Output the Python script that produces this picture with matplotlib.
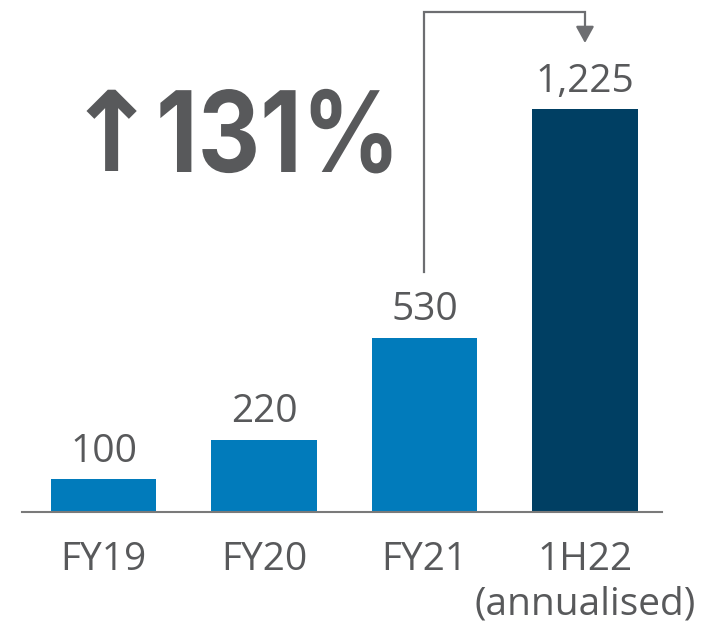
import matplotlib
matplotlib.use("Agg")
import matplotlib.pyplot as plt
from matplotlib.transforms import blended_transform_factory, Affine2D
from matplotlib.lines import Line2D
from matplotlib.patheffects import AbstractPathEffect

categories = ["FY19", "FY20", "FY21", "1H22\n(annualised)"]
values = [100, 220, 530, 1225]
value_labels = ["100", "220", "530", "1,225"]
growth_label = "131%"

W, H = 721, 628
fig = plt.figure(figsize=(W / 100, H / 100), dpi=100)
fig.patch.set_facecolor("white")

TEXT = "#58595b"
LINE = "#6d6e71"
colors = ["#017bbb", "#017bbb", "#017bbb", "#003f63"]

ax_left, ax_right, base_px = 22, 662, 512
ax = fig.add_axes([ax_left / W, (H - base_px) / H, (ax_right - ax_left) / W, base_px / H])
x = list(range(len(categories)))
ax.bar(x, values, width=0.66, color=colors, zorder=2)
ax.set_xlim(-0.508, 3.48)
ax.set_ylim(0, 1556)

for s in ["top", "left", "right"]:
    ax.spines[s].set_visible(False)
ax.spines["bottom"].set_color("#7a7a7a")
ax.spines["bottom"].set_linewidth(1.5)
ax.set_yticks([])
ax.set_xticks(x)
ax.set_xticklabels(categories, fontsize=28, color=TEXT, family=["Open Sans", "DejaVu Sans"],
                   linespacing=1.22)
ax.tick_params(axis="x", length=0, pad=21)

for xi, v, lab in zip(x, values, value_labels):
    ax.annotate(lab, (xi, v), xytext=(0, 12.5), textcoords="offset points",
                ha="center", va="baseline", fontsize=28, color=TEXT,
                family=["Open Sans", "DejaVu Sans"])

# connector from FY21 to 1H22
bt = blended_transform_factory(ax.transData, fig.transFigure)
def fy(py):
    return 1 - py / H
line = Line2D([2, 2, 3, 3], [fy(272), fy(12), fy(12), fy(30)], transform=bt,
              color=LINE, lw=1.6, solid_joinstyle="miter", figure=fig)
fig.add_artist(line)
ax.annotate("", xy=(3, fy(43)), xycoords=bt, xytext=(3, fy(27)), textcoords=bt,
            arrowprops=dict(arrowstyle="-|>,head_length=1.0,head_width=0.55",
                            color=LINE, lw=1.6, shrinkA=0, shrinkB=0),
            annotation_clip=False)


class CondenseX(AbstractPathEffect):
    """Draw text horizontally condensed about a fixed x (display pixels)."""
    def __init__(self, x0, sx):
        super().__init__()
        self.x0, self.sx = x0, sx

    def draw_path(self, renderer, gc, tpath, affine, rgbFace=None):
        aff = affine + Affine2D().translate(-self.x0, 0).scale(self.sx, 1).translate(self.x0, 0)
        renderer.draw_path(gc, tpath, aff, rgbFace)


# big growth text
fig.text(111 / W, 1 - 171 / H, "↑", ha="center", va="baseline", fontsize=80,
         color=TEXT, family=["DejaVu Sans"], fontweight="bold")
gx = 156
fig.text(gx / W, 1 - 172 / H, growth_label, ha="left", va="baseline", fontsize=81,
         color=TEXT, family=["Inter", "DejaVu Sans"], fontweight="bold",
         path_effects=[CondenseX(gx, 0.86)])

fig.savefig("out.png", dpi=100, facecolor="white")
